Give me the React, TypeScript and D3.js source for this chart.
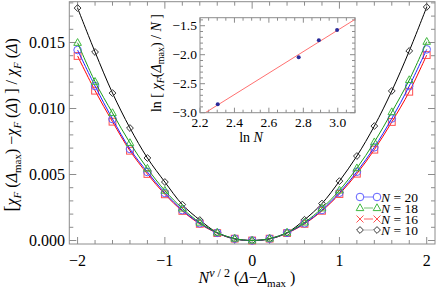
import React from "react";
import * as d3 from "d3";

// --- data ---
const X_VALS = [-2, -1.8, -1.6, -1.4, -1.2, -1, -0.8, -0.6, -0.4, -0.2, 0, 0.2, 0.4, 0.6, 0.8, 1, 1.2, 1.4, 1.6, 1.8, 2];
const N10 = [0.01761, 0.01428, 0.01117, 0.00852, 0.00625, 0.00443, 0.00272, 0.00155, 0.00059, 0.00011, 0, 0.00011, 0.00059, 0.00157, 0.0028, 0.0045, 0.0064, 0.00867, 0.01133, 0.01436, 0.01769];
const N16 = [0.01398, 0.01135, 0.009, 0.0068, 0.00504, 0.0035, 0.00224, 0.00126, 0.00056, 0.00014, 0, 0.00014, 0.00056, 0.00126, 0.00225, 0.00352, 0.00506, 0.00688, 0.00898, 0.01127, 0.01405];
const N18 = [0.01498, 0.01203, 0.00966, 0.00739, 0.00545, 0.00378, 0.00243, 0.00136, 0.0006, 0.00015, 0, 0.00015, 0.0006, 0.00137, 0.00244, 0.0038, 0.00548, 0.00745, 0.00973, 0.01216, 0.01506];
const N20 = [0.01443, 0.0117, 0.0092, 0.00693, 0.00519, 0.0036, 0.0023, 0.0013, 0.00058, 0.00014, 0, 0.00014, 0.00058, 0.0013, 0.00231, 0.00362, 0.00521, 0.00706, 0.00924, 0.0117, 0.01448];
const X_TICKS = [-2, -1, 0, 1, 2];
const Y_TICKS = [0, 0.005, 0.01, 0.015];

// inset: ln N vs ln[chi(max)/N]
const INSET_LNN = [2.303, 2.773, 2.89, 2.996];
const INSET_VAL = [-2.855, -2.045, -1.752, -1.574];
const INSET_X_TICKS = [2.2, 2.4, 2.6, 2.8, 3.0];
const INSET_Y_TICKS = [-3.0, -2.5, -2.0, -1.5];

const W = 436;
const H = 298;
const FONT = "'Liberation Serif', 'Times New Roman', serif";
const FRAME = "#8c8c8c";

type Marker = "circle" | "triangle" | "square" | "diamond" | "cross";

const SERIES = [
  { label: "10", values: N10, line: "#000000", mark: "#333333", marker: "diamond" as Marker, legendMarker: "diamond" as Marker },
  { label: "16", values: N16, line: "#ff0000", mark: "#ff5050", marker: "square" as Marker, legendMarker: "cross" as Marker },
  { label: "20", values: N20, line: "#2020ff", mark: "#6060ff", marker: "circle" as Marker, legendMarker: "circle" as Marker },
  { label: "18", values: N18, line: "#1a9a1a", mark: "#40b840", marker: "triangle" as Marker, legendMarker: "triangle" as Marker },
];
const LEGEND_ORDER = ["20", "18", "16", "10"];

function MarkerShape({ type, x, y, color }: { type: Marker; x: number; y: number; color: string }) {
  const common = { fill: "none", stroke: color, strokeWidth: 1 };
  if (type === "circle") return <circle cx={x} cy={y} r={3.8} {...common} />;
  if (type === "square") return <rect x={x - 3.4} y={y - 3.4} width={6.8} height={6.8} {...common} />;
  if (type === "triangle")
    return <path d={`M${x},${y - 4.2}L${x + 3.8},${y + 2.6}L${x - 3.8},${y + 2.6}Z`} {...common} />;
  if (type === "diamond")
    return <path d={`M${x},${y - 3.4}L${x + 3.4},${y}L${x},${y + 3.4}L${x - 3.4},${y}Z`} {...common} />;
  return <path d={`M${x - 3.5},${y - 3.5}L${x + 3.5},${y + 3.5}M${x + 3.5},${y - 3.5}L${x - 3.5},${y + 3.5}`} {...common} />;
}

function range(a: number, b: number, step: number) {
  const n = Math.round((b - a) / step);
  return d3.range(n + 1).map((i) => +(a + i * step).toFixed(6));
}

export default function App() {
  // main frame
  const left = 69.3, right = 435, top = 1.7, bottom = 244;
  const x = d3.scaleLinear().domain([-2.095, 2.095]).range([left, right]);
  const y = d3.scaleLinear().domain([0, 0.015]).range([240.5, 42.5]);

  const line = d3
    .line<number>()
    .x((_, i) => x(X_VALS[i]))
    .y((d) => y(d))
    .curve(d3.curveCatmullRom);

  const xMinor = range(-2, 2, 0.2);
  const yMinor = range(0, 0.018, 0.001);

  // inset
  const il = 200, ir = 355, it = 17.7, ib = 112.7;
  const ix = d3.scaleLinear().domain([2.2, 3.1]).range([il, ir]);
  const iy = d3.scaleLinear().domain([-3.0, -1.362]).range([ib, it]);
  const mx = d3.mean(INSET_LNN)!;
  const my = d3.mean(INSET_VAL)!;
  const sxy = d3.sum(INSET_LNN, (v, i) => (v - mx) * (INSET_VAL[i] - my));
  const sxx = d3.sum(INSET_LNN, (v) => (v - mx) ** 2);
  const slope = sxy / sxx;
  const icpt = my - slope * mx;
  const fit = (v: number) => slope * v + icpt;

  const ixMinor = range(2.2, 3.1, 0.05);
  const iyMinor = range(-3.0, -1.4, 0.1);

  const sub = (t: string, italic = false) => (
    <tspan dy={4} fontSize={11} fontStyle={italic ? "italic" : "normal"}>
      {t}
    </tspan>
  );
  const up = (t: string) => <tspan dy={-4}>{t}</tspan>;

  return (
    <svg width={W} height={H} style={{ position: "absolute", left: 0, top: 0, background: "#fff" }} fontFamily={FONT}>
      {/* main frame ticks */}
      {xMinor.map((v) => {
        const major = Math.abs(v - Math.round(v)) < 1e-6;
        const len = major ? 7 : 4;
        return (
          <g key={"xt" + v} stroke={FRAME} strokeWidth={1}>
            <line x1={x(v)} x2={x(v)} y1={bottom} y2={bottom - len} />
            <line x1={x(v)} x2={x(v)} y1={top} y2={top + len} />
          </g>
        );
      })}
      {yMinor.map((v) => {
        const major = Math.abs(v * 200 - Math.round(v * 200)) < 1e-6;
        const len = major ? 7 : 4;
        return (
          <g key={"yt" + v} stroke={FRAME} strokeWidth={1}>
            <line x1={left} x2={left + len} y1={y(v)} y2={y(v)} />
            <line x1={right} x2={right - len} y1={y(v)} y2={y(v)} />
          </g>
        );
      })}
      <rect x={left} y={top} width={right - left} height={bottom - top} fill="none" stroke={FRAME} strokeWidth={1} />

      {X_TICKS.map((v) => (
        <text key={"xl" + v} x={x(v)} y={266} fontSize={16} textAnchor="middle">
          {v < 0 ? "\u2212" + Math.abs(v) : v}
        </text>
      ))}
      {Y_TICKS.map((v) => (
        <text key={"yl" + v} x={65} y={y(v) + 5.5} fontSize={16} textAnchor="end">
          {v.toFixed(3)}
        </text>
      ))}

      {/* series */}
      {SERIES.map((s) => (
        <g key={"s" + s.label}>
          <path d={line(s.values) || ""} fill="none" stroke={s.line} strokeWidth={1} />
          {s.values.map((v, i) => (
            <MarkerShape key={i} type={s.marker} x={x(X_VALS[i])} y={y(v)} color={s.mark} />
          ))}
        </g>
      ))}

      {/* legend */}
      {LEGEND_ORDER.map((lab, k) => {
        const s = SERIES.find((q) => q.label === lab)!;
        const ly = 197 + k * 11;
        return (
          <g key={"lg" + lab}>
            <line x1={360} x2={377} y1={ly} y2={ly} stroke={s.line === "#000000" ? "#888" : s.line} strokeWidth={1} opacity={0.6} />
            <rect x={356} y={ly - 4.5} width={8} height={9} fill="#fff" />
            <rect x={373} y={ly - 4.5} width={8} height={9} fill="#fff" />
            <MarkerShape type={s.legendMarker} x={360} y={ly} color={s.mark} />
            <MarkerShape type={s.legendMarker} x={377} y={ly} color={s.mark} />
            <text x={381} y={ly + 4.5} fontSize={13.5}>
              <tspan fontStyle="italic">N</tspan> = {lab}
            </text>
          </g>
        );
      })}

      {/* axis labels */}
      <text x={247} y={283} fontSize={16} textAnchor="middle">
        <tspan fontStyle="italic">N</tspan>
        <tspan dy={-6} fontSize={12}>
          <tspan fontStyle="italic">ν</tspan> / 2
        </tspan>
        <tspan dy={6}> (</tspan>
        <tspan fontStyle="italic">Δ</tspan>
        {"\u2212"}
        <tspan fontStyle="italic">Δ</tspan>
        {sub("max")}
        <tspan dy={-4}> )</tspan>
      </text>

      <text transform="translate(17,125) rotate(-90)" fontSize={16} textAnchor="middle">
        <tspan fontSize={19}>[</tspan>
        <tspan fontStyle="italic">χ</tspan>
        {sub("F", true)}
        {up(" (")}
        <tspan fontStyle="italic">Δ</tspan>
        {sub("max")}
        {up(") \u2212")}
        <tspan fontStyle="italic">χ</tspan>
        {sub("F", true)}
        {up(" (")}
        <tspan fontStyle="italic">Δ</tspan>
        {") ] / "}
        <tspan fontStyle="italic">χ</tspan>
        {sub("F", true)}
        {up(" (")}
        <tspan fontStyle="italic">Δ</tspan>
        {")"}
      </text>

      {/* inset */}
      <rect x={il} y={it} width={ir - il} height={ib - it} fill="#fff" />
      <clipPath id="insetClip">
        <rect x={il} y={it} width={ir - il} height={ib - it} />
      </clipPath>
      {ixMinor.map((v) => {
        const major = Math.abs(v * 5 - Math.round(v * 5)) < 1e-6;
        const len = major ? 5 : 3;
        return (
          <g key={"ixt" + v} stroke={FRAME} strokeWidth={1}>
            <line x1={ix(v)} x2={ix(v)} y1={ib} y2={ib - len} />
            <line x1={ix(v)} x2={ix(v)} y1={it} y2={it + len} />
          </g>
        );
      })}
      {iyMinor.map((v) => {
        const major = Math.abs(v * 2 - Math.round(v * 2)) < 1e-6;
        const len = major ? 5 : 3;
        return (
          <g key={"iyt" + v} stroke={FRAME} strokeWidth={1}>
            <line x1={il} x2={il + len} y1={iy(v)} y2={iy(v)} />
            <line x1={ir} x2={ir - len} y1={iy(v)} y2={iy(v)} />
          </g>
        );
      })}
      <g clipPath="url(#insetClip)">
        <line x1={ix(2.2)} x2={ix(3.1)} y1={iy(fit(2.2))} y2={iy(fit(3.1))} stroke="#ff7070" strokeWidth={1} />
      </g>
      {INSET_LNN.map((v, i) => (
        <circle key={"ip" + i} cx={ix(v)} cy={iy(INSET_VAL[i])} r={2} fill="#2b2b99" />
      ))}
      <rect x={il} y={it} width={ir - il} height={ib - it} fill="none" stroke={FRAME} strokeWidth={1} />
      {INSET_X_TICKS.map((v) => (
        <text key={"ixl" + v} x={ix(v)} y={127} fontSize={13.5} textAnchor="middle">
          {v.toFixed(1)}
        </text>
      ))}
      {INSET_Y_TICKS.map((v) => (
        <text key={"iyl" + v} x={197} y={iy(v) + 4.5} fontSize={13.5} textAnchor="end">
          {"\u2212" + Math.abs(v).toFixed(1)}
        </text>
      ))}
      <text x={251} y={142} fontSize={14} textAnchor="middle">
        ln <tspan fontStyle="italic">N</tspan>
      </text>
      <text transform="translate(161,63) rotate(-90)" fontSize={14} textAnchor="middle">
        ln [ <tspan fontStyle="italic">χ</tspan>
        <tspan dy={3} fontSize={10} fontStyle="italic">F</tspan>
        <tspan dy={-3}>(</tspan>
        <tspan fontStyle="italic">Δ</tspan>
        <tspan dy={3} fontSize={10}>max</tspan>
        <tspan dy={-3}>) / </tspan>
        <tspan fontStyle="italic">N</tspan> ]
      </text>
    </svg>
  );
}
